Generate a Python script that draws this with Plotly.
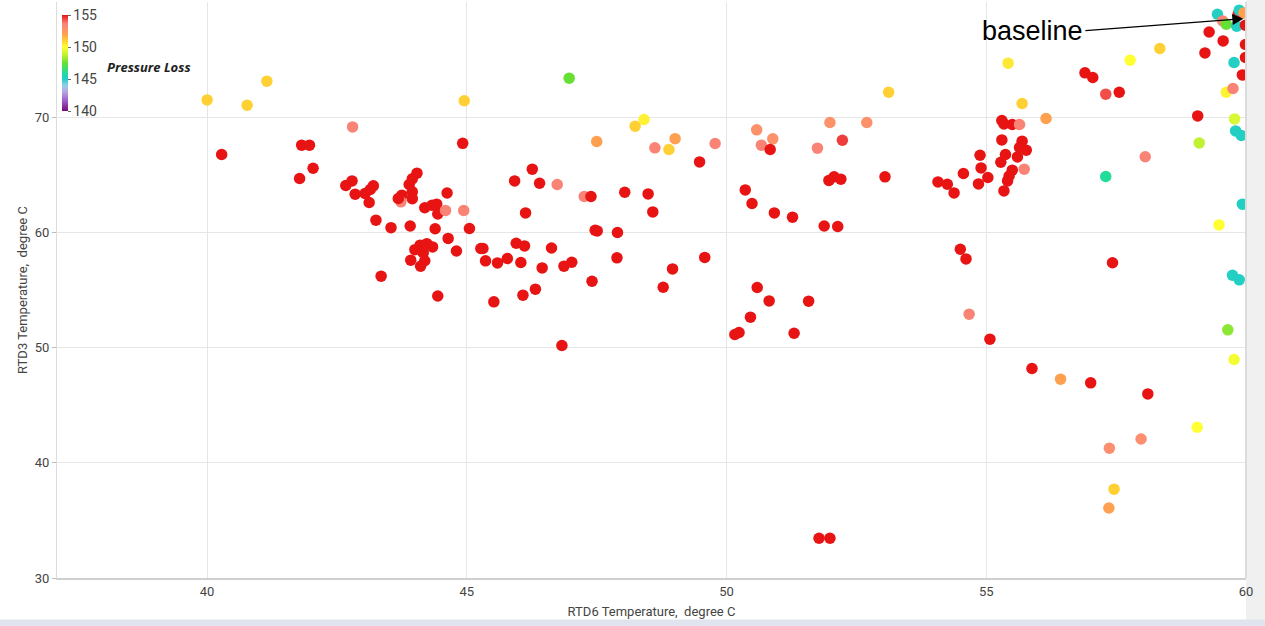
import plotly.graph_objects as go

# RTD6 temperature (x), RTD3 temperature (y), pressure loss (color)
rtd6 = [40.0, 40.28, 40.77, 41.15, 41.78, 41.82, 41.97, 42.04, 42.67, 42.79,
        42.80, 42.85, 43.04, 43.14, 43.20, 43.12, 43.25, 43.54, 43.35, 43.75,
        43.73, 43.68, 44.04, 43.95, 43.89, 43.95, 43.95, 43.91, 44.19, 44.33,
        44.42, 44.44, 44.59, 44.94, 44.62, 44.92, 44.39, 44.64, 44.80, 45.05,
        45.27, 44.00, 44.10, 44.23, 44.34, 44.16, 43.92, 44.19, 44.11, 44.44,
        44.95, 46.97, 45.92, 46.26, 46.40, 46.74, 46.13, 45.31, 45.36, 45.59,
        45.78, 45.95, 46.11, 46.04, 46.45, 46.63, 46.87, 47.02, 45.52, 46.08,
        46.32, 46.83, 47.26, 47.39, 47.50, 48.24, 48.41, 48.62, 48.04, 48.49,
        48.58, 47.47, 47.51, 47.90, 47.89, 47.41, 49.01, 48.89, 49.78, 49.48,
        53.12, 51.99, 52.70, 50.58, 50.89, 50.67, 50.84, 51.75, 52.23, 51.97,
        52.07, 52.20, 53.05, 50.36, 50.49, 50.92, 51.27, 51.88, 52.14, 49.58,
        48.96, 48.78, 50.59, 50.82, 51.58, 50.46, 50.16, 50.24, 51.30, 51.78,
        51.99, 55.42, 56.90, 57.05, 57.30, 57.56, 55.69, 56.15, 55.30, 55.34,
        55.50, 55.64, 55.30, 55.69, 55.64, 55.77, 55.37, 55.60, 54.88, 54.90,
        55.28, 55.50, 55.44, 55.41, 55.34, 55.73, 55.03, 54.85, 54.56, 54.07,
        54.25, 54.38, 57.30, 54.50, 54.61, 57.43, 54.67, 55.07, 55.88, 56.43,
        57.01, 58.11, 59.06, 57.98, 57.37, 57.46, 57.36, 58.06, 59.93, 59.48,
        59.74, 59.87, 59.65, 59.77, 59.45, 59.55, 59.62, 59.85, 59.87, 59.96,
        59.82, 59.99, 59.29, 59.56, 59.21, 59.99, 59.99, 59.77, 59.93, 57.77,
        58.34, 59.62, 59.75, 59.07, 59.78, 59.80, 59.91, 59.10]

rtd3 = [71.5, 66.76, 71.04, 73.13, 64.68, 67.57, 67.57, 65.57, 64.07, 64.47,
        69.16, 63.32, 63.38, 63.72, 64.04, 62.60, 61.06, 60.41, 56.20, 63.23,
        62.65, 62.94, 65.14, 64.65, 64.16, 63.52, 62.93, 60.56, 62.14, 62.36,
        62.45, 61.60, 61.91, 61.90, 63.42, 67.73, 60.32, 59.48, 58.39, 60.34,
        58.60, 58.50, 58.89, 59.02, 58.74, 58.24, 57.59, 57.54, 57.07, 54.48,
        71.43, 73.39, 64.47, 65.49, 64.27, 64.16, 61.69, 58.60, 57.53, 57.35,
        57.73, 59.06, 58.83, 57.39, 56.92, 58.65, 57.07, 57.41, 53.97, 54.55,
        55.07, 50.18, 63.12, 63.12, 67.89, 69.22, 69.80, 67.34, 63.49, 63.34,
        61.78, 60.19, 60.13, 59.99, 57.79, 55.76, 68.14, 67.20, 67.72, 66.12,
        72.17, 69.54, 69.54, 68.90, 68.12, 67.57, 67.20, 67.31, 68.00, 64.51,
        64.82, 64.62, 64.82, 63.69, 62.51, 61.69, 61.32, 60.56, 60.51, 57.83,
        56.83, 55.24, 55.22, 54.05, 54.03, 52.64, 51.14, 51.31, 51.25, 33.45,
        33.45, 74.69, 73.85, 73.45, 72.00, 72.17, 71.19, 69.89, 69.71, 69.42,
        69.37, 69.37, 68.03, 67.92, 67.37, 67.14, 66.76, 66.55, 66.70, 65.60,
        66.09, 65.40, 64.90, 64.47, 63.60, 65.49, 64.77, 64.21, 65.11, 64.38,
        64.18, 63.43, 64.85, 58.54, 57.70, 57.37, 52.90, 50.73, 48.19, 47.26,
        46.94, 45.98, 43.09, 42.07, 41.27, 37.71, 36.08, 66.57, 62.45, 60.65,
        56.28, 55.88, 51.54, 48.97, 78.94, 78.36, 78.07, 78.94, 79.29, 79.05,
        77.90, 77.99, 77.40, 76.62, 75.58, 76.31, 75.18, 74.75, 73.67, 74.95,
        75.96, 72.17, 72.49, 70.11, 69.85, 68.81, 68.41, 67.77]

pressure_loss = [151, 155, 151, 151, 155, 155, 155, 155, 155, 155,
                 153.5, 155, 155, 155, 155, 155, 155, 155, 155, 155,
                 153.5, 155, 155, 155, 155, 155, 155, 155, 155, 155,
                 155, 155, 153.5, 153.5, 155, 155, 155, 155, 155, 155,
                 155, 155, 155, 155, 155, 155, 155, 155, 155, 155,
                 151, 147.5, 155, 155, 155, 153.5, 155, 155, 155, 155,
                 155, 155, 155, 155, 155, 155, 155, 155, 155, 155,
                 155, 155, 153.5, 155, 152, 151, 150.3, 153.5, 155, 155,
                 155, 155, 155, 155, 155, 155, 152, 151, 153.5, 155,
                 151, 152.8, 152.8, 152.8, 152.8, 153.5, 155, 153.5, 154.5, 155,
                 155, 155, 155, 155, 155, 155, 155, 155, 155, 155,
                 155, 155, 155, 155, 155, 155, 155, 155, 155, 155,
                 155, 150.5, 155, 155, 154.3, 155, 151, 152, 155, 155,
                 155, 153.5, 155, 155, 155, 155, 155, 155, 155, 155,
                 155, 155, 155, 155, 155, 153.5, 155, 155, 155, 155,
                 155, 155, 146, 155, 155, 155, 153.5, 155, 155, 152,
                 155, 155, 150, 153, 153, 151, 152, 153.5, 145.2, 150,
                 145.2, 145.2, 148, 149.8, 145.2, 153.5, 147.5, 155, 145.2, 152,
                 145.2, 155, 155, 155, 155, 155, 155, 145.2, 155, 150,
                 151, 150.3, 153.5, 155, 149.3, 145.2, 145.2, 148.8]

cbar_ticks = [140, 145, 150, 155]

colorscale = [
    [0.0, "#760976"], [0.1, "#9b59c6"], [0.2, "#b9a5e3"], [0.267, "#8fd0e8"],
    [0.333, "#22cccc"], [0.4, "#22dd99"], [0.5, "#66e033"], [0.567, "#b0ee33"],
    [0.667, "#ffff33"], [0.733, "#ffd033"], [0.8, "#ffa050"], [0.867, "#fb8f70"],
    [0.913, "#f88078"], [1.0, "#e81414"],
]

FONT = "Roboto, sans-serif"

fig = go.Figure()
fig.add_trace(go.Scatter(
    x=rtd6, y=rtd3, mode="markers",
    marker=dict(
        size=11.5, color=pressure_loss, cmin=140, cmax=155,
        colorscale=colorscale, line=dict(width=0),
        colorbar=dict(
            x=0.0042, xanchor="left", y=0.894, yanchor="middle",
            len=0.167, lenmode="fraction", thickness=6, outlinewidth=0,
            tickvals=cbar_ticks, ticks="outside", ticklen=3, tickcolor="#666",
            tickfont=dict(family=FONT, size=14, color="#444"), xpad=0, ypad=0,
        ),
    ),
    showlegend=False, hoverinfo="x+y",
))

fig.add_annotation(
    x=0.0404, y=0.887, xref="paper", yref="paper", xanchor="left", yanchor="middle",
    text="<b><i>Pressure Loss</i></b>", showarrow=False,
    font=dict(family="Open Sans, sans-serif", size=13, color="#222"),
)

fig.add_annotation(
    x=59.95, y=78.55, xref="x", yref="y", ax=-158, ay=12,
    text="baseline", showarrow=True, xanchor="right",
    arrowhead=2, arrowsize=1.7, arrowwidth=1.3, arrowcolor="black",
    font=dict(family="Liberation Sans, Arial, sans-serif", size=27, color="black"),
)

# right edge strip and bottom strip of the frame
fig.add_shape(type="rect", xref="paper", yref="paper", x0=1.0, x1=1.02, y0=-0.09, y1=1.01,
              fillcolor="#f0f0f0", line=dict(width=0), layer="below")
fig.add_shape(type="line", xref="paper", yref="paper", x0=1.0, x1=1.0, y0=0, y1=1.0,
              line=dict(color="#dcdcdc", width=2))
fig.add_shape(type="rect", xref="paper", yref="paper", x0=-0.06, x1=1.02, y0=-0.072, y1=-0.1,
              fillcolor="#dfe4ee", line=dict(width=0))

fig.update_layout(
    width=1265, height=626,
    margin=dict(l=57, r=19, t=2, b=48),
    paper_bgcolor="white", plot_bgcolor="white",
    font=dict(family=FONT, size=13, color="#444"),
    xaxis=dict(
        range=[37.11, 60], tickvals=[40, 45, 50, 55, 60],
        showgrid=True, gridcolor="#e6e6e6", gridwidth=1,
        showline=True, linecolor="#cfcfcf", linewidth=2,
        ticks="", zeroline=False,
        title=dict(text="RTD6 Temperature,  degree C", font=dict(size=13, color="#444"), standoff=9),
        tickfont=dict(size=13, color="#444"),
    ),
    yaxis=dict(
        range=[30, 80], tickvals=[30, 40, 50, 60, 70],
        showgrid=True, gridcolor="#e6e6e6", gridwidth=1,
        showline=True, linecolor="#dcdcdc", linewidth=1,
        ticks="outside", ticklen=4, tickcolor="#bbb", zeroline=False,
        title=dict(text="RTD3 Temperature,  degree C", font=dict(size=13, color="#444"), standoff=4),
        tickfont=dict(size=13, color="#444"),
    ),
)

fig.write_html("out.html", config={"displayModeBar": False},
               post_script="document.body.style.margin='0';")
